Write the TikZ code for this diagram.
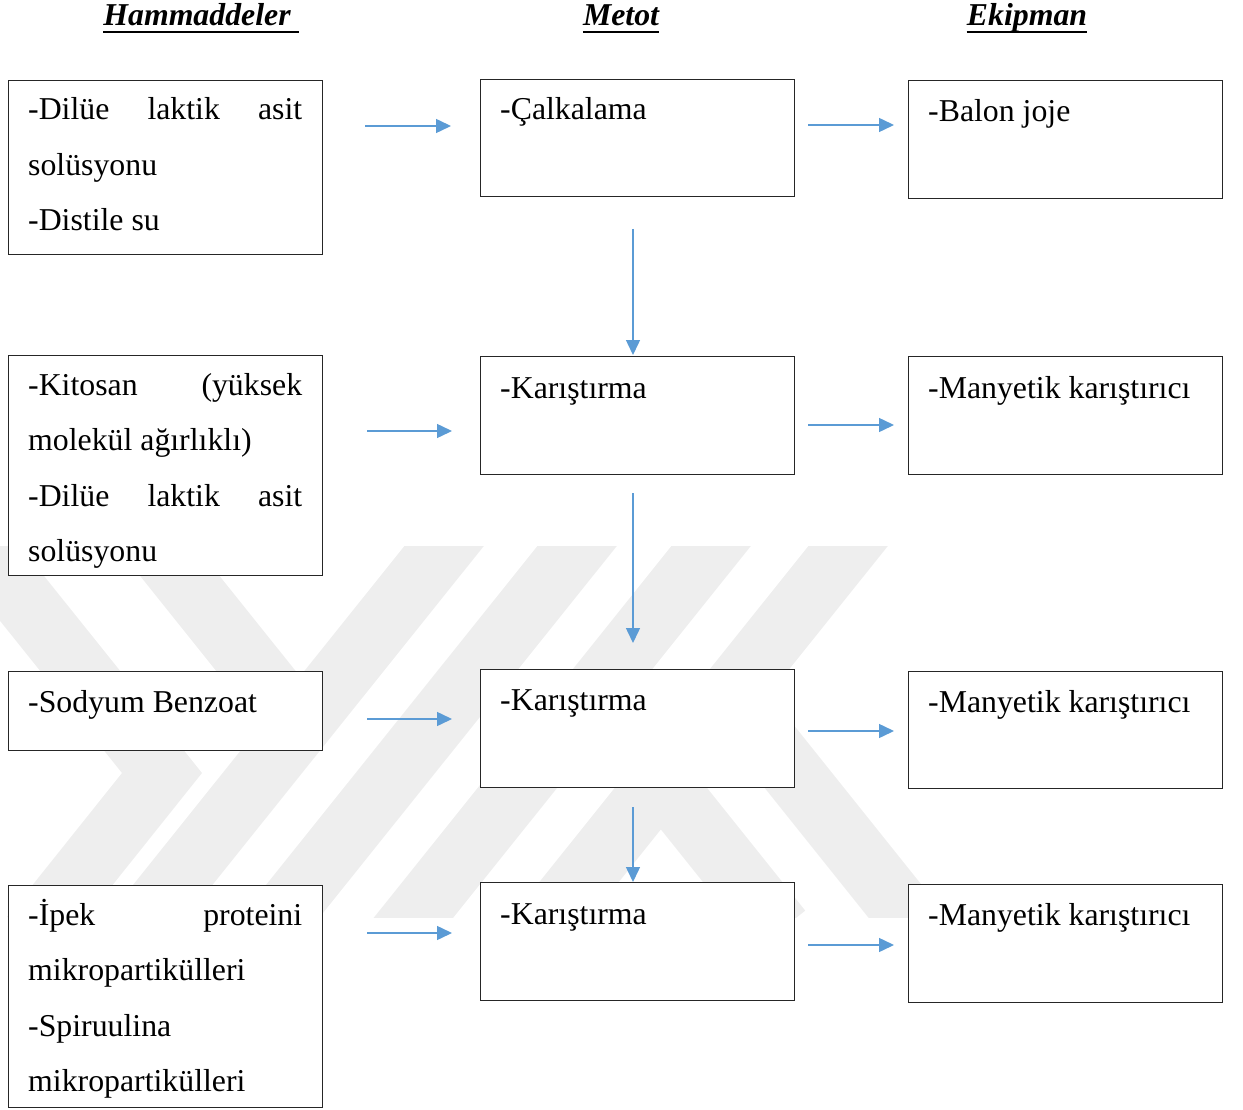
\documentclass[tikz,border=0pt]{standalone}
\usepackage{fontspec}
\setmainfont{Liberation Serif}
\usetikzlibrary{arrows.meta}
\definecolor{arrowblue}{HTML}{5B9BD5}
\definecolor{wmgray}{HTML}{EEEEEE}
\tikzset{
  box/.style={draw=black!85, line width=1.3pt, fill=white, anchor=north west, inner sep=0pt},
  txt/.style={anchor=base west, inner sep=0pt, font=\fontsize{31.8}{38}\selectfont},
  ttl/.style={anchor=base, inner sep=0pt, font=\fontsize{31.8}{38}\selectfont\bfseries\itshape},
  arr/.style={draw=arrowblue, line width=1.5pt, -{Triangle[length=15pt,width=14pt]}},
  wmband/.style={draw=wmgray, line width=62pt},
}
\begin{document}
\begin{tikzpicture}[x=1pt,y=-1pt]
\useasboundingbox (0,0) rectangle (1243,1110);
% watermark
\begin{scope}
\clip (0,546) rectangle (1243,917);
\fill[wmgray] (-60,546) -- (20,546) -- (202,773) -- (87,917) -- (7,917) -- (122,773) -- cycle;
\draw[wmband] (107,485) -- (300,726);
\draw[wmband] (493,485) -- (99,977);
\draw[wmband] (626,485) -- (232,977);
\draw[wmband] (760,485) -- (366,977);
\draw[wmband] (897,485) -- (503,977);
\draw[wmband] (661,780) -- (781,930);
\draw[wmband] (730,695) -- (918,930);
\end{scope}
% titles
\node[ttl] (t1) at (197,26) {Hammaddeler};
\node[ttl] (t2) at (621,26) {Metot};
\node[ttl] (t3) at (1027,26) {Ekipman};
\draw[line width=2.8pt] ([yshift=-6pt]t1.base west) -- ([yshift=-6pt,xshift=8pt]t1.base east);
\draw[line width=2.8pt] ([yshift=-6pt]t2.base west) -- ([yshift=-6pt]t2.base east);
\draw[line width=2.8pt] ([yshift=-6pt]t3.base west) -- ([yshift=-6pt]t3.base east);
% left boxes
\node[box, minimum width=314pt, minimum height=174pt] (L1) at (8,80) {};
\node[box, minimum width=314pt, minimum height=220pt] (L2) at (8,355) {};
\node[box, minimum width=314pt, minimum height=79pt] (L3) at (8,671) {};
\node[box, minimum width=314pt, minimum height=222pt] (L4) at (8,885) {};
% middle boxes
\node[box, minimum width=314pt, minimum height=117pt] (M1) at (480,79) {};
\node[box, minimum width=314pt, minimum height=118pt] (M2) at (480,356) {};
\node[box, minimum width=314pt, minimum height=118pt] (M3) at (480,669) {};
\node[box, minimum width=314pt, minimum height=118pt] (M4) at (480,882) {};
% right boxes
\node[box, minimum width=314pt, minimum height=118pt] (R1) at (908,80) {};
\node[box, minimum width=314pt, minimum height=118pt] (R2) at (908,356) {};
\node[box, minimum width=314pt, minimum height=117pt] (R3) at (908,671) {};
\node[box, minimum width=314pt, minimum height=118pt] (R4) at (908,884) {};
% left texts
\node[txt] (l1a) at (28,120) {\hbox to 274pt{-Dilüe\hfill laktik\hfill asit}};
\node[txt] (l1b) at (28,176) {solüsyonu};
\node[txt] (l1c) at (28,231) {-Distile su};
\node[txt] (l2a) at (28,395) {\hbox to 274pt{-Kitosan\hfill (yüksek}};
\node[txt] (l2b) at (28,450) {molekül ağırlıklı)};
\node[txt] (l2c) at (28,506) {\hbox to 274pt{-Dilüe\hfill laktik\hfill asit}};
\node[txt] (l2d) at (28,561) {solüsyonu};
\node[txt] (l3a) at (28,712) {-Sodyum Benzoat};
\node[txt] (l4a) at (28,925) {\hbox to 274pt{-İpek\hfill proteini}};
\node[txt] (l4b) at (28,980) {mikropartikülleri};
\node[txt] (l4c) at (28,1036) {-Spiruulina};
\node[txt] (l4d) at (28,1091) {mikropartikülleri};
% middle texts
\node[txt] (m1t) at (500,120) {-Çalkalama};
\node[txt] (m2t) at (500,398) {-Karıştırma};
\node[txt] (m3t) at (500,710) {-Karıştırma};
\node[txt] (m4t) at (500,924) {-Karıştırma};
% right texts
\node[txt] (r1t) at (928,122) {-Balon joje};
\node[txt] (r2t) at (928,398) {-Manyetik karıştırıcı};
\node[txt] (r3t) at (928,712) {-Manyetik karıştırıcı};
\node[txt] (r4t) at (928,925) {-Manyetik karıştırıcı};
% arrow end points
\coordinate (a1s) at (365,126); \coordinate (a1e) at (451,126);
\coordinate (a2s) at (367,431); \coordinate (a2e) at (452,431);
\coordinate (a3s) at (367,719); \coordinate (a3e) at (452,719);
\coordinate (a4s) at (367,933); \coordinate (a4e) at (452,933);
\coordinate (b1s) at (808,125); \coordinate (b1e) at (894,125);
\coordinate (b2s) at (808,425); \coordinate (b2e) at (894,425);
\coordinate (b3s) at (808,731); \coordinate (b3e) at (894,731);
\coordinate (b4s) at (808,945); \coordinate (b4e) at (894,945);
\coordinate (v1s) at (633,229); \coordinate (v1e) at (633,355);
\coordinate (v2s) at (633,493); \coordinate (v2e) at (633,643);
\coordinate (v3s) at (633,807); \coordinate (v3e) at (633,882);
\foreach \p in {a1,a2,a3,a4,b1,b2,b3,b4,v1,v2,v3}
  \draw[arr] (\p s) -- (\p e);
\end{tikzpicture}
\end{document}
